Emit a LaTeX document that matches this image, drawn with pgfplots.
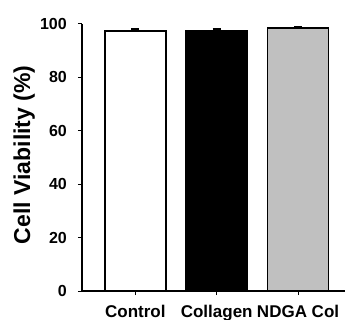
\documentclass[border=0pt]{standalone}
\usepackage{fontspec}
\setmainfont{Liberation Sans}
\usepackage{pgfplots}
\pgfplotsset{compat=1.18}
\definecolor{barGray}{HTML}{C0C0C0}
\begin{document}
\begin{tikzpicture}
\useasboundingbox (-82bp,-29bp) rectangle (264bp,291bp);
\begin{axis}[
  at={(0,0)}, anchor=south west,
  scale only axis, width=263bp, height=267bp,
  xmin=-0.656, xmax=2.577, ymin=0, ymax=100,
  axis lines*=left,
  axis line style={line width=1.3bp},
  xtick={0,1,2}, xticklabels={Control,Collagen,NDGA Col},
  ytick={0,20,40,60,80,100},
  tick align=outside, major tick length=4bp,
  tick style={line width=1bp, black},
  /pgf/number format/assume math mode=true,
  xticklabel style={font=\fontsize{17bp}{20bp}\selectfont\bfseries, anchor=base, inner sep=0pt, yshift=-22bp},
  yticklabel style={font=\fontsize{16bp}{18bp}\selectfont\bfseries, anchor=east, inner sep=0pt, xshift=-11bp},
  ylabel={Cell Viability (\%)},
  ylabel style={font=\fontsize{23bp}{26bp}\selectfont\bfseries, at={(axis description cs:-0.22,0.51)}, anchor=center, rotate=0},
  ybar, bar width=61bp, bar shift=0pt,
  clip=false,
]
\addplot[fill=white, draw=black, line width=1.6bp,
  error bars/.cd, y dir=plus, y explicit,
  error bar style={line width=2bp, black},
  error mark options={rotate=90, line width=2bp, mark size=4bp, black}]
  coordinates {(0,97.4) +- (0,0.6)};
\addplot[fill=black, draw=black, line width=1.6bp,
  error bars/.cd, y dir=plus, y explicit,
  error bar style={line width=2bp, black},
  error mark options={rotate=90, line width=2bp, mark size=4bp, black}]
  coordinates {(1,97.5) +- (0,0.5)};
\addplot[fill=barGray, draw=black, line width=1.6bp,
  error bars/.cd, y dir=plus, y explicit,
  error bar style={line width=2bp, black},
  error mark options={rotate=90, line width=2bp, mark size=4bp, black}]
  coordinates {(2,98.5) +- (0,0.5)};
\end{axis}
\end{tikzpicture}
\end{document}
